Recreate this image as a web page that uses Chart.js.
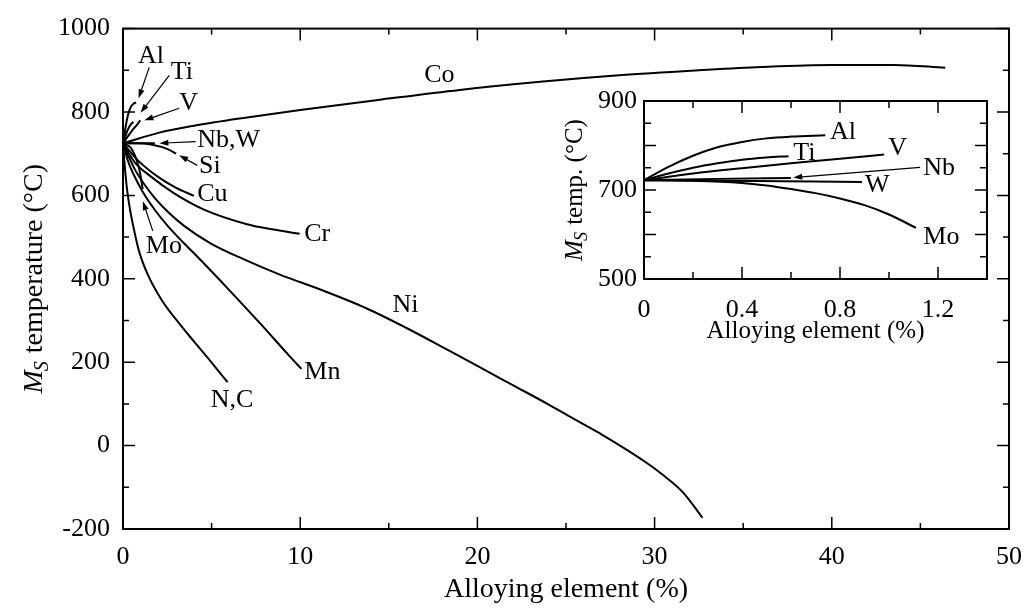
<!DOCTYPE html>
<html>
<head>
<meta charset="utf-8">
<script src="https://cdn.jsdelivr.net/npm/chart.js@4.4.0/dist/chart.umd.min.js"></script>
<style>
  html, body { margin:0; padding:0; background:#fff; }
  #wrap { position:relative; width:1035px; height:610px; }
  #main { position:absolute; left:0; top:0; }
  #inset { position:absolute; left:540px; top:70px; }
</style>
</head>
<body>
<div id="wrap">
  <canvas id="main" width="1035" height="610"></canvas>
  <canvas id="inset" width="480" height="290"></canvas>
</div>
<script>
// Ms temperature vs. alloying element content (main panel, wt.%)
const coX  = [0, 2, 4, 7, 10, 14.4, 19, 23.7, 28, 32.5, 36, 40, 43.5, 46.4];
const coY  = [725, 750, 767, 787, 805, 829, 853, 873, 888, 900, 908, 913, 913, 906];
const niX  = [0, 0.3, 0.7, 1.58, 2.5, 3.45, 4.94, 6.8, 8.85, 11.28, 13.7, 16, 18.3, 20, 22, 24, 25.7, 27, 28.5, 29.5, 30.4, 31.6, 32.7];
const niY  = [725, 695, 660, 605, 562, 527, 485, 447, 410, 372, 330, 282, 230, 191, 145, 99, 58, 27, -12, -40, -68, -112, -173];
const crX  = [0, 0.65, 1.58, 2.89, 4.57, 7.0, 8.5, 9.97];
const crY  = [725, 680, 645, 605, 566, 531, 518, 508];
const cuX  = [0, 0.84, 1.96, 3.0, 4.0];
const cuY  = [725, 684, 645, 618, 599];
const mnX  = [0, 0.3, 0.6, 1.12, 1.8, 2.52, 3.4, 4.38, 6.06, 7.74, 9.41, 10.07];
const mnY  = [725, 680, 650, 608, 565, 527, 487, 445, 370, 293, 214, 184];
const ncX  = [0, 0.12, 0.24, 0.4, 0.56, 0.9, 1.4, 2.2, 3.17, 4.0, 4.75, 5.9];
const ncY  = [725, 660, 610, 565, 530, 467, 410, 348, 293, 250, 212, 152];
const siX  = [0, 0.8, 1.58, 2.52, 3.0];
const siY  = [725, 725, 722, 711, 700];
const nbwX = [0, 1.8];
const nbwY = [725, 725];

// small additions (inset, wt.%)
const alX = [0, 0.1, 0.2, 0.3, 0.4, 0.5, 0.6, 0.74];
const alY = [722, 752, 777, 796, 808, 816, 820, 823];
const tiX = [0, 0.1, 0.2, 0.3, 0.4, 0.5, 0.59];
const tiY = [722, 737, 750, 760, 768, 773, 776];
const vX  = [0, 0.2, 0.4, 0.6, 0.8, 0.98];
const vY  = [722, 737, 749, 760, 770, 780];
const nbX = [0, 0.3, 0.6];
const nbY = [722, 725, 727];
const wX  = [0, 0.45, 0.89];
const wY  = [722, 720, 718];
const moX = [0, 0.2, 0.4, 0.5, 0.6, 0.7, 0.8, 0.9, 1.0, 1.11];
const moY = [722, 721, 716, 710, 702, 693, 681, 666, 645, 615];

// tick values
const mainXTicks = [0, 10, 20, 30, 40, 50];
const mainXMinor = [5, 15, 25, 35, 45];
const mainYTicks = [-200, 0, 200, 400, 600, 800, 1000];
const mainYMinor = [-100, 100, 300, 500, 700, 900];
const insetXTicks = [0, 0.4, 0.8, 1.2];
const insetXMinor = [0.2, 0.6, 1.0, 1.4];
const insetYTicks = [500, 700, 900];
const insetYMid   = [600, 800];
const insetYMinor = [550, 650, 750, 850];

const SERIF = "'Liberation Serif', 'Times New Roman', serif";
const INK = '#000';

const curve = (xs, ys) => ({
  data: xs.map((x, i) => ({ x, y: ys[i] })),
  showLine:true, borderColor:INK, borderWidth:2, pointRadius:0,
  cubicInterpolationMode:'monotone', fill:false
});

// box with inward ticks on all four sides
function frame(xMaj, xMin, yMaj, yMin, majLen, minLen) {
  return {
    id:'frame',
    afterDraw(chart) {
      const { ctx, chartArea:a, scales:{ x, y } } = chart;
      ctx.save();
      ctx.strokeStyle = INK;
      ctx.lineWidth = 2;
      ctx.strokeRect(a.left, a.top, a.right - a.left, a.bottom - a.top);
      ctx.lineWidth = 1.5;
      ctx.beginPath();
      const tx = (v, len) => { const p = x.getPixelForValue(v);
        ctx.moveTo(p, a.bottom); ctx.lineTo(p, a.bottom - len);
        ctx.moveTo(p, a.top);    ctx.lineTo(p, a.top + len); };
      const ty = (v, len) => { const p = y.getPixelForValue(v);
        ctx.moveTo(a.left, p);  ctx.lineTo(a.left + len, p);
        ctx.moveTo(a.right, p); ctx.lineTo(a.right - len, p); };
      xMaj.forEach(v => tx(v, majLen)); xMin.forEach(v => tx(v, minLen));
      yMaj.forEach(v => ty(v, majLen)); yMin.forEach(v => ty(v, minLen));
      ctx.stroke();
      ctx.restore();
    }
  };
}

// curve names and pointer arrows, placed in data units
function notes(items, size) {
  return {
    id:'notes',
    afterDraw(chart) {
      const { ctx, scales:{ x, y } } = chart;
      ctx.save();
      ctx.fillStyle = INK; ctx.strokeStyle = INK;
      ctx.font = `${size}px ${SERIF}`;
      ctx.textBaseline = 'middle'; ctx.textAlign = 'left';
      items.forEach(n => {
        if (n.text) ctx.fillText(n.text, x.getPixelForValue(n.x), y.getPixelForValue(n.y));
        if (n.arrow) {
          const [x0, y0, x1, y1] = n.arrow;
          const px0 = x.getPixelForValue(x0), py0 = y.getPixelForValue(y0);
          const px1 = x.getPixelForValue(x1), py1 = y.getPixelForValue(y1);
          const ang = Math.atan2(py1 - py0, px1 - px0);
          ctx.lineWidth = 1.2;
          ctx.beginPath(); ctx.moveTo(px0, py0);
          ctx.lineTo(px1 - 6 * Math.cos(ang), py1 - 6 * Math.sin(ang)); ctx.stroke();
          ctx.beginPath();
          ctx.moveTo(px1, py1);
          ctx.lineTo(px1 - 9 * Math.cos(ang) + 3 * Math.sin(ang), py1 - 9 * Math.sin(ang) - 3 * Math.cos(ang));
          ctx.lineTo(px1 - 9 * Math.cos(ang) - 3 * Math.sin(ang), py1 - 9 * Math.sin(ang) + 3 * Math.cos(ang));
          ctx.closePath(); ctx.fill();
        }
      });
      ctx.restore();
    }
  };
}

// "M_S ..." axis title with italic M and subscript S
function msTitle(ctx, cx, cy, rest, size, vertical) {
  const f = (it, s) => `${it ? 'italic ' : ''}${s}px ${SERIF}`;
  const sub = Math.round(size * 0.72);
  ctx.save();
  ctx.translate(cx, cy);
  if (vertical) ctx.rotate(-Math.PI / 2);
  ctx.fillStyle = INK; ctx.textBaseline = 'alphabetic'; ctx.textAlign = 'left';
  ctx.font = f(true, size); const wM = ctx.measureText('M').width;
  ctx.font = f(true, sub);  const wS = ctx.measureText('S').width;
  ctx.font = f(false, size); const wR = ctx.measureText(rest).width;
  let x = -(wM + wS + wR) / 2;
  const base = size * 0.34;
  ctx.font = f(true, size); ctx.fillText('M', x, base); x += wM;
  ctx.font = f(true, sub);  ctx.fillText('S', x - 1, base + size * 0.22); x += wS;
  ctx.font = f(false, size); ctx.fillText(rest, x, base);
  ctx.restore();
}

function titles(yRest, size, yTitleX, xTitleY) {
  return {
    id:'titles',
    afterDraw(chart) {
      const { ctx, chartArea:a } = chart;
      msTitle(ctx, yTitleX, (a.top + a.bottom) / 2, yRest, size, true);
      ctx.save();
      ctx.fillStyle = INK; ctx.font = `${size}px ${SERIF}`;
      ctx.textAlign = 'center'; ctx.textBaseline = 'middle';
      ctx.fillText('Alloying element (%)', (a.left + a.right) / 2, xTitleY);
      ctx.restore();
    }
  };
}

function axis(min, max, ticks, pad, fit) {
  return {
    type:'linear', min, max,
    grid:{ display:false, drawTicks:false },
    border:{ display:false },
    afterBuildTicks: s => { s.ticks = ticks.map(v => ({ value:v })); },
    afterFit: fit,
    ticks:{ color:INK, padding:pad, autoSkip:false, maxRotation:0,
            font:{ family:SERIF, size:26 }, callback: v => String(v) }
  };
}

const common = {
  responsive:false, animation:false,
  plugins:{ legend:{ display:false }, tooltip:{ enabled:false } }
};

new Chart(document.getElementById('main'), {
  type:'scatter',
  data:{ datasets:[
    curve(coX, coY), curve(niX, niY), curve(crX, crY), curve(cuX, cuY),
    curve(mnX, mnY), curve(ncX, ncY), curve(siX, siY), curve(nbwX, nbwY),
    curve(alX, alY), curve(tiX, tiY), curve(vX, vY), curve(moX, moY)
  ]},
  options:{ ...common,
    layout:{ padding:{ left:0, top:19, right:18, bottom:0 } },
    scales:{
      x: axis(0, 50, mainXTicks, 13, s => { s.height = 81; }),
      y: axis(-200, 1000, mainYTicks, 13, s => { s.width = 123; })
    }
  },
  plugins:[
    frame(mainXTicks, mainXMinor, mainYTicks, mainYMinor, 12, 6),
    notes([
      { text:'Co',   x:17.0,  y:888 },
      { text:'Al',   x:0.84,  y:935, arrow:[1.48, 907, 0.88, 833] },
      { text:'Ti',   x:2.70,  y:896, arrow:[2.61, 888, 0.99, 798] },
      { text:'V',    x:3.17,  y:821, arrow:[3.17, 809, 1.21, 780] },
      { text:'Nb,W', x:4.19,  y:732, arrow:[4.10, 729, 2.05, 725] },
      { text:'Si',   x:4.29,  y:671, arrow:[4.19, 672, 3.17, 696] },
      { text:'Cu',   x:4.19,  y:602 },
      { text:'Cr',   x:10.23, y:506 },
      { text:'Mo',   x:1.29,  y:478, arrow:[1.68, 515, 1.12, 586] },
      { text:'Ni',   x:15.21, y:337 },
      { text:'Mn',   x:10.23, y:176 },
      { text:'N,C',  x:4.95,  y:110 }
    ], 26),
    titles(' temperature (°C)', 28, 32, 590)
  ]
});

new Chart(document.getElementById('inset'), {
  type:'scatter',
  data:{ datasets:[
    curve(alX, alY), curve(tiX, tiY), curve(vX, vY),
    curve(nbX, nbY), curve(wX, wY), curve(moX, moY)
  ]},
  options:{ ...common,
    layout:{ padding:{ left:0, top:31, right:33, bottom:0 } },
    scales:{
      x: axis(0, 1.4, insetXTicks, 16, s => { s.height = 81; }),
      y: axis(500, 900, insetYTicks, 7, s => { s.width = 104; })
    }
  },
  plugins:[
    frame(insetXTicks, insetXMinor, insetYTicks.concat(insetYMid), insetYMinor, 12, 7),
    notes([
      { text:'Al', x:0.759, y:831 },
      { text:'Ti', x:0.609, y:782 },
      { text:'V',  x:0.997, y:794 },
      { text:'Nb', x:1.14,  y:749, arrow:[1.127, 751, 0.609, 728] },
      { text:'W',  x:0.902, y:711 },
      { text:'Mo', x:1.14,  y:595 }
    ], 26),
    titles(' temp. (°C)', 25, 33, 261)
  ]
});
</script>
</body>
</html>
